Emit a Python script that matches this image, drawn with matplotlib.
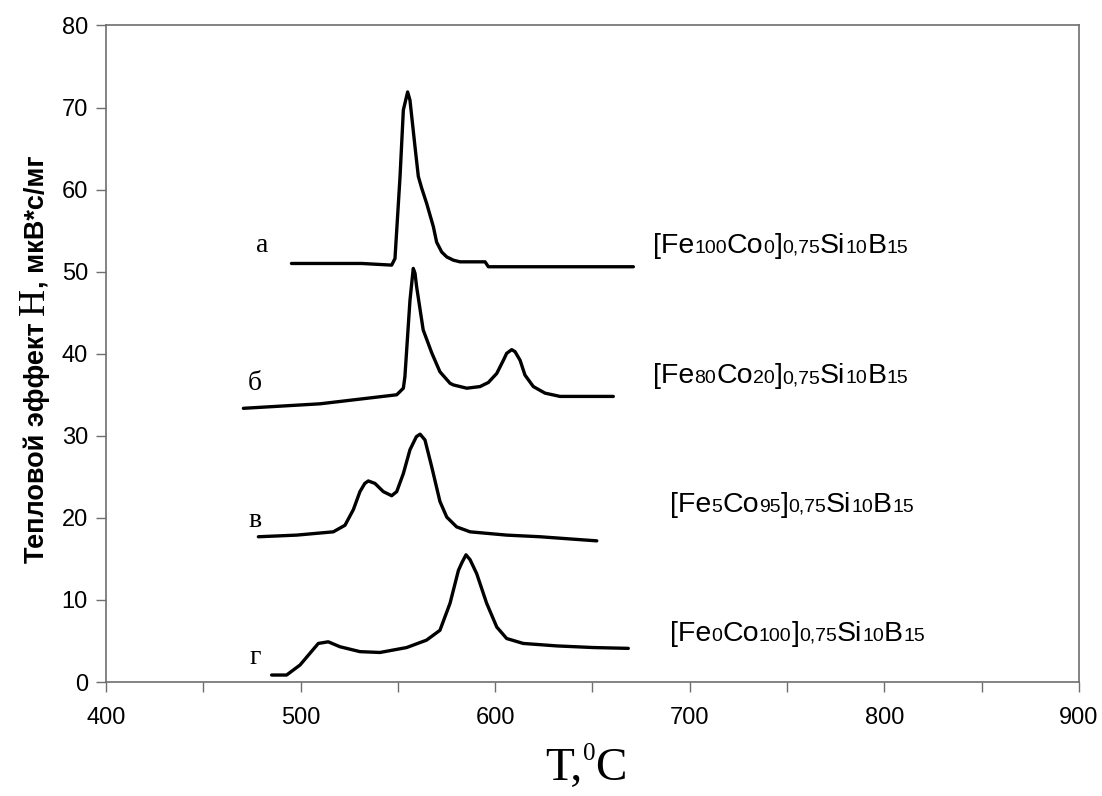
import matplotlib

matplotlib.use("Agg")
import matplotlib.pyplot as plt
import matplotlib.transforms as mtransforms
from matplotlib.ticker import MultipleLocator

plt.rcParams["font.family"] = ["Liberation Sans", "DejaVu Sans"]
plt.rcParams["mathtext.fontset"] = "custom"
plt.rcParams["mathtext.rm"] = "Liberation Serif"

# curve а: [Fe100Co0]0,75Si10B15
t_a = [495.3, 531.4, 546.8, 548.5, 551.1, 552.8, 555.0, 556.2, 558.8, 560.5, 562.2, 564.8,
       568.2, 569.9, 572.5, 575.1, 578.5, 581.9, 594.8, 596.5, 671.0]
h_a = [51.0, 51.0, 50.8, 51.6, 61.6, 69.7, 71.9, 70.9, 65.2, 61.6, 60.2, 58.3,
       55.5, 53.6, 52.4, 51.8, 51.4, 51.2, 51.2, 50.6, 50.6]

# curve б: [Fe80Co20]0,75Si10B15
t_b = [470.6, 510.0, 549.4, 552.8, 553.6, 556.2, 557.9, 558.8, 559.6, 563.0, 567.4, 571.6,
       576.8, 578.5, 585.4, 592.2, 596.5, 600.8, 604.2, 605.9, 608.5, 610.2, 612.8, 615.3,
       619.6, 625.6, 633.3, 660.7]
h_b = [33.35, 33.9, 35.0, 35.8, 37.2, 46.5, 50.4, 49.8, 48.2, 42.9, 40.1, 37.8,
       36.4, 36.2, 35.8, 36.0, 36.5, 37.6, 39.2, 40.05, 40.5, 40.25, 39.2, 37.4,
       36.0, 35.2, 34.8, 34.8]

# curve в: [Fe5Co95]0,75Si10B15
t_v = [478.3, 498.0, 516.8, 522.8, 527.1, 530.5, 533.0, 534.8, 538.2, 542.5, 546.8, 549.4,
       552.8, 556.2, 559.5, 561.4, 563.9, 567.4, 571.6, 575.1, 580.2, 587.1, 605.9, 623.0, 652.2]
h_v = [17.7, 17.9, 18.3, 19.1, 21.0, 23.2, 24.2, 24.5, 24.2, 23.2, 22.7, 23.2,
       25.4, 28.3, 29.9, 30.2, 29.5, 26.2, 22.0, 20.1, 18.9, 18.3, 17.9, 17.7, 17.2]

# curve г: [Fe0Co100]0,75Si10B15
t_g = [485.1, 492.8, 499.7, 504.8, 509.1, 514.2, 520.2, 530.5, 540.8, 554.5, 564.7, 571.6,
       576.8, 581.1, 582.8, 585.0, 587.1, 590.5, 592.2, 595.6, 600.8, 605.9, 614.4, 631.6,
       650.4, 668.4]
h_g = [0.85, 0.85, 2.07, 3.5, 4.7, 4.9, 4.3, 3.7, 3.6, 4.2, 5.1, 6.3,
       9.6, 13.6, 14.5, 15.5, 14.9, 13.2, 12.0, 9.6, 6.7, 5.3, 4.7, 4.4,
       4.2, 4.1]

curve_letters = ["а", "б", "в", "г"]
letter_pos = [(480.2, 53.25), (476.6, 36.4), (476.6, 19.7), (476.6, 3.0)]

formulas = [
    [("[Fe", "b"), ("100", "s"), ("Co", "b"), ("0", "s"), ("]", "b"), ("0,75", "s"),
     ("Si", "b"), ("10", "s"), ("B", "b"), ("15", "s")],
    [("[Fe", "b"), ("80", "s"), ("Co", "b"), ("20", "s"), ("]", "b"), ("0,75", "s"),
     ("Si", "b"), ("10", "s"), ("B", "b"), ("15", "s")],
    [("[Fe", "b"), ("5", "s"), ("Co", "b"), ("95", "s"), ("]", "b"), ("0,75", "s"),
     ("Si", "b"), ("10", "s"), ("B", "b"), ("15", "s")],
    [("[Fe", "b"), ("0", "s"), ("Co", "b"), ("100", "s"), ("]", "b"), ("0,75", "s"),
     ("Si", "b"), ("10", "s"), ("B", "b"), ("15", "s")],
]
formula_pos = [(681.1, 52.3), (681.1, 36.4), (689.8, 20.75), (689.8, 5.03)]

fig = plt.figure(figsize=(11.02, 7.96), dpi=100)
ax = fig.add_axes([0.0962, 0.1432, 0.8829, 0.8248])

for t, h in [(t_a, h_a), (t_b, h_b), (t_v, h_v), (t_g, h_g)]:
    ax.plot(t, h, color="black", linewidth=2.4, solid_joinstyle="round", solid_capstyle="round")

ax.set_xlim(400, 900)
ax.set_ylim(0, 80)
ax.xaxis.set_major_locator(MultipleLocator(100))
ax.xaxis.set_minor_locator(MultipleLocator(50))
ax.yaxis.set_major_locator(MultipleLocator(10))
for s in ax.spines.values():
    s.set_color("#6e6e6e")
    s.set_linewidth(1.2)
ax.tick_params(which="both", direction="out", color="#6e6e6e", width=1.0, length=7)
ax.tick_params(axis="x", which="major", labelsize=17, pad=11)
ax.tick_params(axis="y", labelsize=17, pad=6)

for letter, (x, y) in zip(curve_letters, letter_pos):
    ax.text(x, y, letter, fontsize=20, family="Liberation Serif", ha="center", va="center")

fig.canvas.draw()
renderer = fig.canvas.get_renderer()
sizes = {"b": 20.5, "s": 14}

for parts, (x, y) in zip(formulas, formula_pos):
    trans = ax.transData
    for s, kind in parts:
        txt = ax.text(x, y, s, transform=trans, fontsize=sizes[kind], va="baseline", ha="left")
        w = txt.get_window_extent(renderer).width
        trans = mtransforms.offset_copy(trans, x=w, units="dots")

# y label: bold sans text with a larger serif H
ylabel_parts = [("Тепловой эффект ", "Liberation Sans", "bold", 19.5),
                ("H", "Liberation Serif", "normal", 27),
                (", мкВ*с/мг", "Liberation Sans", "bold", 19.5)]
trans = mtransforms.IdentityTransform()
x0, y0 = 44, 796 - 563
for s, fam, weight, size in ylabel_parts:
    txt = fig.text(x0, y0, s, transform=trans, rotation=90, rotation_mode="anchor",
                   ha="left", va="baseline", family=fam, fontweight=weight, fontsize=size)
    hgt = txt.get_window_extent(renderer).height
    trans = mtransforms.offset_copy(trans, y=hgt, units="dots")

# x label: T,0C with a small raised zero
xl = fig.text(0.495, 0.02, "T,", fontsize=34, family="Liberation Serif",
              ha="left", va="baseline")
w = xl.get_window_extent(renderer).width
trans = mtransforms.offset_copy(fig.transFigure, x=w, y=20, units="dots")
sup = fig.text(0.495, 0.02, "0", fontsize=18, family="Liberation Serif",
               ha="left", va="baseline", transform=trans)
w += sup.get_window_extent(renderer).width
trans = mtransforms.offset_copy(fig.transFigure, x=w, units="dots")
fig.text(0.495, 0.02, "C", fontsize=34, family="Liberation Serif",
         ha="left", va="baseline", transform=trans)

fig.savefig("out.png", dpi=100)
